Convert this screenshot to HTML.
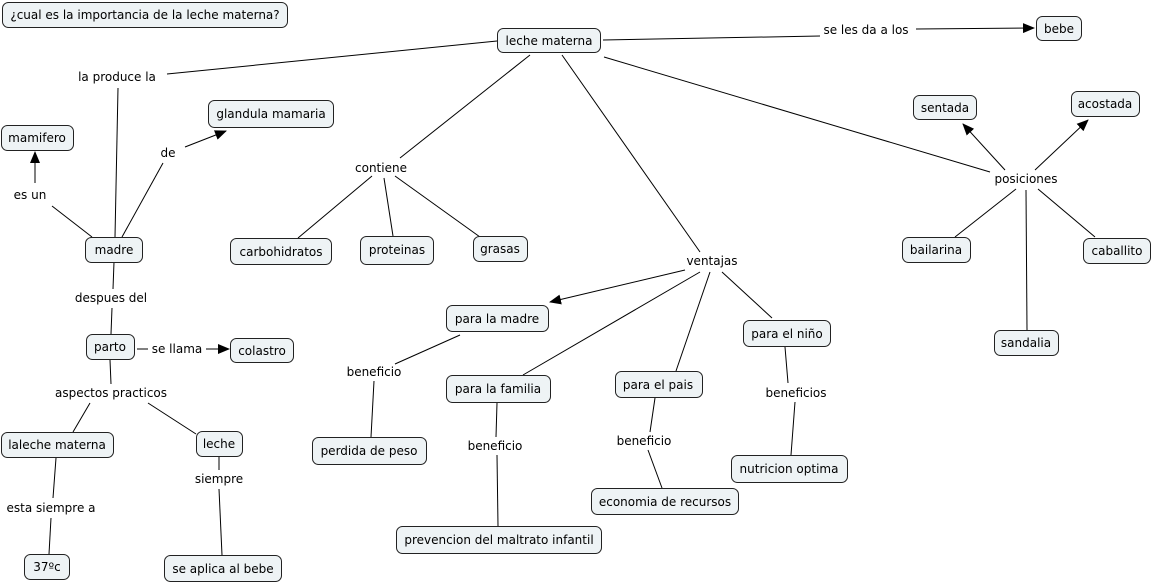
<!DOCTYPE html>
<html><head><meta charset="utf-8"><style>
html,body{margin:0;padding:0;background:#fff;}
svg{display:block;}
text{font-family:"DejaVu Sans","Liberation Sans",sans-serif;font-size:12px;fill:#000;}
.n{fill:#eef3f5;stroke:#222;stroke-width:1;}
line{stroke:#000;stroke-width:1;}
</style></head><body>
<svg width="1153" height="585" viewBox="0 0 1153 585" xmlns="http://www.w3.org/2000/svg">
<defs>
<marker id="a" markerWidth="12" markerHeight="10" refX="11" refY="5" orient="auto" markerUnits="userSpaceOnUse">
<path d="M0,0 L12,5 L0,10 z" fill="#000"/></marker>
</defs>
<g>
<line x1="497" y1="41" x2="167" y2="74"/>
<line x1="118" y1="88" x2="115" y2="237"/>
<line x1="122" y1="237" x2="163" y2="163"/>
<line x1="185" y1="147" x2="226" y2="131" marker-end="url(#a)"/>
<line x1="92" y1="237" x2="52" y2="206"/>
<line x1="35" y1="183" x2="35" y2="152" marker-end="url(#a)"/>
<line x1="603" y1="40" x2="820" y2="36"/>
<line x1="916" y1="29" x2="1034" y2="28" marker-end="url(#a)"/>
<line x1="530" y1="55" x2="400" y2="158"/>
<line x1="372" y1="176" x2="298" y2="238"/>
<line x1="384" y1="178" x2="393" y2="236"/>
<line x1="395" y1="176" x2="480" y2="237"/>
<line x1="562" y1="55" x2="700" y2="252"/>
<line x1="685" y1="270" x2="550" y2="302" marker-end="url(#a)"/>
<line x1="700" y1="272" x2="523" y2="375"/>
<line x1="710" y1="272" x2="676" y2="371"/>
<line x1="722" y1="272" x2="772" y2="318"/>
<line x1="604" y1="57" x2="990" y2="172"/>
<line x1="1005" y1="170" x2="963" y2="124" marker-end="url(#a)"/>
<line x1="1035" y1="170" x2="1088" y2="120" marker-end="url(#a)"/>
<line x1="1016" y1="189" x2="955" y2="237"/>
<line x1="1038" y1="189" x2="1095" y2="237"/>
<line x1="1026" y1="190" x2="1027" y2="330"/>
<line x1="114" y1="262" x2="113" y2="289"/>
<line x1="112" y1="308" x2="111" y2="334"/>
<line x1="137" y1="349" x2="148" y2="349"/>
<line x1="206" y1="349" x2="229" y2="349" marker-end="url(#a)"/>
<line x1="110" y1="360" x2="111" y2="384"/>
<line x1="90" y1="403" x2="73" y2="432"/>
<line x1="148" y1="403" x2="196" y2="434"/>
<line x1="460" y1="335" x2="395" y2="364"/>
<line x1="374" y1="381" x2="371" y2="437"/>
<line x1="497" y1="403" x2="496" y2="437"/>
<line x1="497" y1="455" x2="498" y2="526"/>
<line x1="655" y1="398" x2="650" y2="432"/>
<line x1="648" y1="450" x2="662" y2="488"/>
<line x1="785" y1="347" x2="788" y2="383"/>
<line x1="795" y1="402" x2="791" y2="455"/>
<line x1="56" y1="458" x2="53" y2="498"/>
<line x1="51" y1="518" x2="49" y2="554"/>
<line x1="219" y1="457" x2="219" y2="470"/>
<line x1="219" y1="489" x2="222" y2="555"/>
</g>
<g>
<rect class="n" x="2.5" y="2.5" width="285" height="25" rx="6"/>
<rect class="n" x="497.5" y="28.5" width="103" height="24" rx="6"/>
<rect class="n" x="1036.5" y="16.5" width="45" height="24" rx="6"/>
<rect class="n" x="208.5" y="100.5" width="125" height="27" rx="6"/>
<rect class="n" x="1.5" y="125.5" width="72" height="25" rx="6"/>
<rect class="n" x="85.5" y="237.5" width="57" height="25" rx="6"/>
<rect class="n" x="230.5" y="238.5" width="101" height="26" rx="6"/>
<rect class="n" x="360.5" y="236.5" width="73" height="28" rx="6"/>
<rect class="n" x="473.5" y="236.5" width="54" height="25" rx="6"/>
<rect class="n" x="446.5" y="305.5" width="102" height="26" rx="6"/>
<rect class="n" x="86.5" y="334.5" width="48" height="25" rx="6"/>
<rect class="n" x="230.5" y="338.5" width="63" height="24" rx="6"/>
<rect class="n" x="446.5" y="375.5" width="104" height="27" rx="6"/>
<rect class="n" x="615.5" y="371.5" width="87" height="26" rx="6"/>
<rect class="n" x="743.5" y="320.5" width="87" height="26" rx="6"/>
<rect class="n" x="312.5" y="437.5" width="114" height="27" rx="6"/>
<rect class="n" x="1.5" y="432.5" width="112" height="25" rx="6"/>
<rect class="n" x="196.5" y="431.5" width="46" height="25" rx="6"/>
<rect class="n" x="731.5" y="455.5" width="116" height="27" rx="6"/>
<rect class="n" x="591.5" y="488.5" width="147" height="26" rx="6"/>
<rect class="n" x="396.5" y="526.5" width="205" height="27" rx="6"/>
<rect class="n" x="24.5" y="554.5" width="45" height="25" rx="6"/>
<rect class="n" x="164.5" y="555.5" width="117" height="26" rx="6"/>
<rect class="n" x="913.5" y="95.5" width="63" height="24" rx="6"/>
<rect class="n" x="1071.5" y="91.5" width="68" height="25" rx="6"/>
<rect class="n" x="902.5" y="237.5" width="68" height="25" rx="6"/>
<rect class="n" x="1083.5" y="238.5" width="67" height="25" rx="6"/>
<rect class="n" x="994.5" y="330.5" width="64" height="25" rx="6"/>
</g>
<g text-anchor="middle">
<text x="145" y="19">¿cual es la importancia de la leche materna?</text>
<text x="549" y="45">leche materna</text>
<text x="1059" y="33">bebe</text>
<text x="271" y="118">glandula mamaria</text>
<text x="37" y="142">mamifero</text>
<text x="114" y="254">madre</text>
<text x="281" y="256">carbohidratos</text>
<text x="397" y="254">proteinas</text>
<text x="500" y="253">grasas</text>
<text x="497" y="323">para la madre</text>
<text x="110" y="351">parto</text>
<text x="262" y="355">colastro</text>
<text x="498" y="393">para la familia</text>
<text x="658" y="389">para el pais</text>
<text x="787" y="338">para el niño</text>
<text x="369" y="455">perdida de peso</text>
<text x="57" y="449">laleche materna</text>
<text x="219" y="448">leche</text>
<text x="789" y="473">nutricion optima</text>
<text x="665" y="506">economia de recursos</text>
<text x="499" y="544">prevencion del maltrato infantil</text>
<text x="47" y="571">37ºc</text>
<text x="223" y="573">se aplica al bebe</text>
<text x="945" y="112">sentada</text>
<text x="1105" y="108">acostada</text>
<text x="936" y="254">bailarina</text>
<text x="1117" y="255">caballito</text>
<text x="1026" y="347">sandalia</text>
<text x="866" y="34">se les da a los</text>
<text x="117" y="81">la produce la</text>
<text x="168" y="157">de</text>
<text x="30" y="199">es un</text>
<text x="381" y="172">contiene</text>
<text x="712" y="265">ventajas</text>
<text x="1026" y="183">posiciones</text>
<text x="111" y="302">despues del</text>
<text x="177" y="353">se llama</text>
<text x="111" y="397">aspectos practicos</text>
<text x="374" y="376">beneficio</text>
<text x="495" y="450">beneficio</text>
<text x="644" y="445">beneficio</text>
<text x="796" y="397">beneficios</text>
<text x="51" y="512">esta siempre a</text>
<text x="219" y="483">siempre</text>
</g>
</svg>
</body></html>
